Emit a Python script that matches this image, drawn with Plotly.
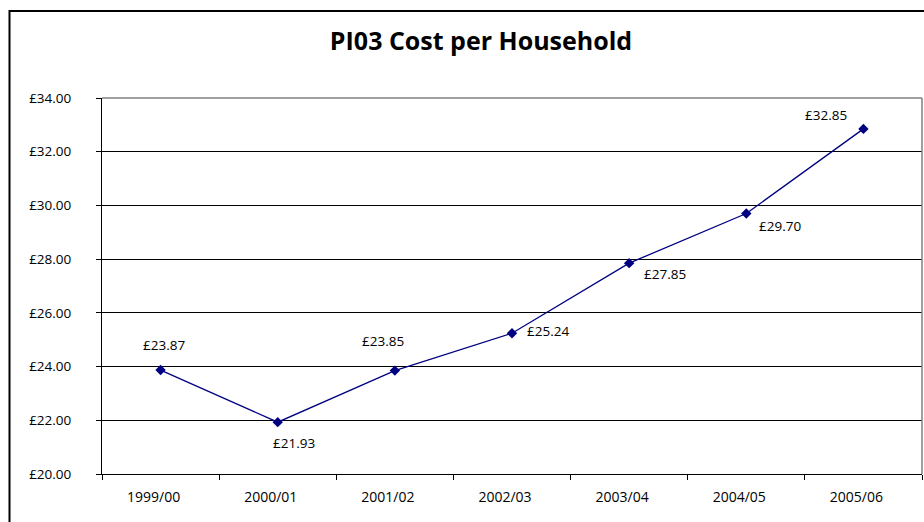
import plotly.graph_objects as go

categories = ["1999/00", "2000/01", "2001/02", "2002/03", "2003/04", "2004/05", "2005/06"]
cost = [23.87, 21.93, 23.85, 25.24, 27.85, 29.70, 32.85]
label_pos = [(3, 25), (16, -21), (-12, 30), (36, 2), (36, -11), (34, -13), (-37, 14)]

W, H = 924, 522
ML, MR, MT, MB = 102, 2, 98, 48
PW, PH = W - ML - MR, H - MT - MB

def px(x):
    return (x - ML) / PW

def py(y):
    return 1 - (y - MT) / PH

FONT = "Open Sans"
NAVY = "#000080"

fig = go.Figure()
fig.add_trace(go.Scatter(
    x=categories, y=cost, mode="lines+markers",
    line=dict(color=NAVY, width=1.3),
    marker=dict(symbol="diamond", size=8, color=NAVY),
    hoverinfo="x+y", showlegend=False,
))

for c, v, (dx, dy) in zip(categories, cost, label_pos):
    fig.add_annotation(x=c, y=v, text=f"£{v:.2f}", showarrow=False,
                       xshift=dx, yshift=dy,
                       font=dict(family=FONT, size=13.5, color="black"))

fig.update_layout(
    width=W, height=H,
    margin=dict(l=ML, r=MR, t=MT, b=MB),
    paper_bgcolor="white", plot_bgcolor="white",
    font=dict(family=FONT, size=13, color="black"),
    title=dict(text="<b>PI03 Cost per Household</b>", x=px(481), xref="paper", xanchor="center",
               y=1 - 41 / H, yanchor="middle",
               font=dict(family=FONT, size=25, color="black")),
    xaxis=dict(type="category", range=[-0.5, 6.5], tickson="boundaries",
               ticks="outside", ticklen=5, tickcolor="black", tickwidth=1,
               showline=True, linecolor="black", linewidth=1,
               showgrid=False, zeroline=False, ticklabelstandoff=10,
               ticklabelshift=-7,
               tickfont=dict(family=FONT, size=14)),
    yaxis=dict(range=[20, 34], dtick=2, tick0=20, tickprefix="£", tickformat=".2f",
               ticks="outside", ticklen=5, tickcolor="black", tickwidth=1,
               showline=True, linecolor="black", linewidth=1,
               showgrid=True, gridcolor="black", gridwidth=1, zeroline=False,
               ticklabelstandoff=22, tickfont=dict(family=FONT, size=13.5)),
    shapes=[
        dict(type="line", xref="paper", yref="paper", x0=0, x1=1, y0=1, y1=1,
             line=dict(color="#808080", width=1.5), layer="above"),
        dict(type="line", xref="paper", yref="paper", x0=1, x1=1, y0=0, y1=1,
             line=dict(color="#808080", width=1.5), layer="above"),
        dict(type="rect", xref="paper", yref="paper",
             x0=px(9.5), x1=px(940), y0=py(11), y1=py(540),
             line=dict(color="black", width=2), layer="above"),
    ],
)

fig.write_html("out.html", config={"displayModeBar": False},
               post_script="document.body.style.margin='0';document.body.style.overflow='hidden';")
